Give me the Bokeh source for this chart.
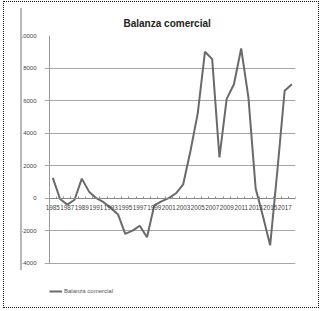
from bokeh.plotting import figure
from bokeh.models import (FixedTicker, Legend, LegendItem, Range1d, LinearAxis,
                          InlineStyleSheet)
from bokeh.embed import file_html
from bokeh.resources import INLINE

# Data
years = list(range(1985, 2019))
balanza = [1250, -50, -400, -100, 1200, 400, 0, -250, -600, -1000,
           -2200, -2000, -1700, -2400, -450, -200, 0, 300, 850, 2900,
           5200, 9000, 8550, 2500, 6100, 7000, 9200, 6200, 600, -1100,
           -2900, 1700, 6600, 7000]
x_tick_years = years[::2]
y_ticks = [-4000, -2000, 0, 2000, 4000, 6000, 8000, 10000]
series_name = "Balanza comercial"
title_text = "Balanza comercial"

# frame: top at 10000 (y=35px), -4000 at y~263px; frame extended down to
# y=300px so the legend can sit inside it, below the value axis.
px_per_unit = 227.7 / (y_ticks[-1] - y_ticks[0])
frame_h = 265
y_start = y_ticks[-1] - frame_h / px_per_unit
# frame extended 4.7px to the left of the category area so that the first
# year label is not cut; the value axis line is drawn at the category edge.
px_per_year = 246.3 / len(years)
x_first = years[0] - 0.5
x_start = x_first - 4.7 / px_per_year

p = figure(width=321, height=311, output_backend="svg", toolbar_location=None,
           x_range=Range1d(x_start, years[-1] + 0.5),
           y_range=Range1d(y_start, y_ticks[-1]),
           min_border_left=44, min_border_right=26,
           min_border_top=35, min_border_bottom=11)
p.outline_line_color = None
p.background_fill_color = "white"
p.border_fill_color = "white"

p.title.text = title_text
p.title.align = "left"
p.title.offset = 79
p.title.standoff = 13
p.title.text_font = "Liberation Sans"
p.title.text_font_size = "10px"
p.title.text_font_style = "bold"
p.title.text_color = "#222222"

# x axis drawn at y = 0
xax = p.xaxis[0]
xax.fixed_location = 0
xax.bounds = (x_first, years[-1] + 0.5)
xax.ticker = FixedTicker(ticks=x_tick_years,
                         minor_ticks=[y - 0.5 for y in years] + [years[-1] + 0.5])
xax.major_tick_line_color = None
xax.minor_tick_in = 2
xax.minor_tick_out = 0
xax.minor_tick_line_color = "#888888"
xax.axis_line_color = "#888888"
xax.major_label_text_font = "Liberation Sans"
xax.major_label_text_font_size = "6.3px"
xax.major_label_text_color = "#444444"
xax.major_label_standoff = 1

# value labels (left panel)
yax = p.yaxis[0]
yax.ticker = FixedTicker(ticks=y_ticks)
yax.minor_tick_line_color = None
yax.major_tick_line_color = None
yax.axis_line_color = None
yax.major_label_text_font = "Liberation Sans"
yax.major_label_text_font_size = "6px"
yax.major_label_text_color = "#444444"
yax.major_label_standoff = 2

# value axis line at the edge of the category area
yline = LinearAxis(fixed_location=x_first, ticker=FixedTicker(ticks=[]),
                   bounds=(y_ticks[0], y_ticks[-1]),
                   axis_line_color="#999999", major_tick_line_color=None,
                   minor_tick_line_color=None)
p.add_layout(yline, "left")

p.xgrid.grid_line_color = None
p.ygrid.grid_line_color = "#a6a6a6"
p.ygrid.grid_line_width = 1

r = p.line(years, balanza, line_color="#6a6a6a", line_width=2)

legend = Legend(items=[LegendItem(label=series_name, renderers=[r])],
                location=(5, 6), padding=0, margin=0,
                glyph_width=13, glyph_height=6, label_height=6,
                label_standoff=2, label_text_font="Liberation Sans",
                label_text_font_size="6px", label_text_color="#555555",
                border_line_color=None, background_fill_alpha=0)
p.add_layout(legend)

p.stylesheets = [InlineStyleSheet(css="""
:host { position: relative; }
:host::before { content: ""; position: absolute; left: 20px; top: 8px;
  width: 2px; height: 262px; background: #b8b8b8; z-index: 5; pointer-events: none; }
:host::after { content: ""; position: absolute; left: 3px; top: 1px;
  width: 314px; height: 305px; border: 1px dotted #111; z-index: 5; pointer-events: none; }
""")]

open("out.html", "w").write(file_html(p, INLINE))
